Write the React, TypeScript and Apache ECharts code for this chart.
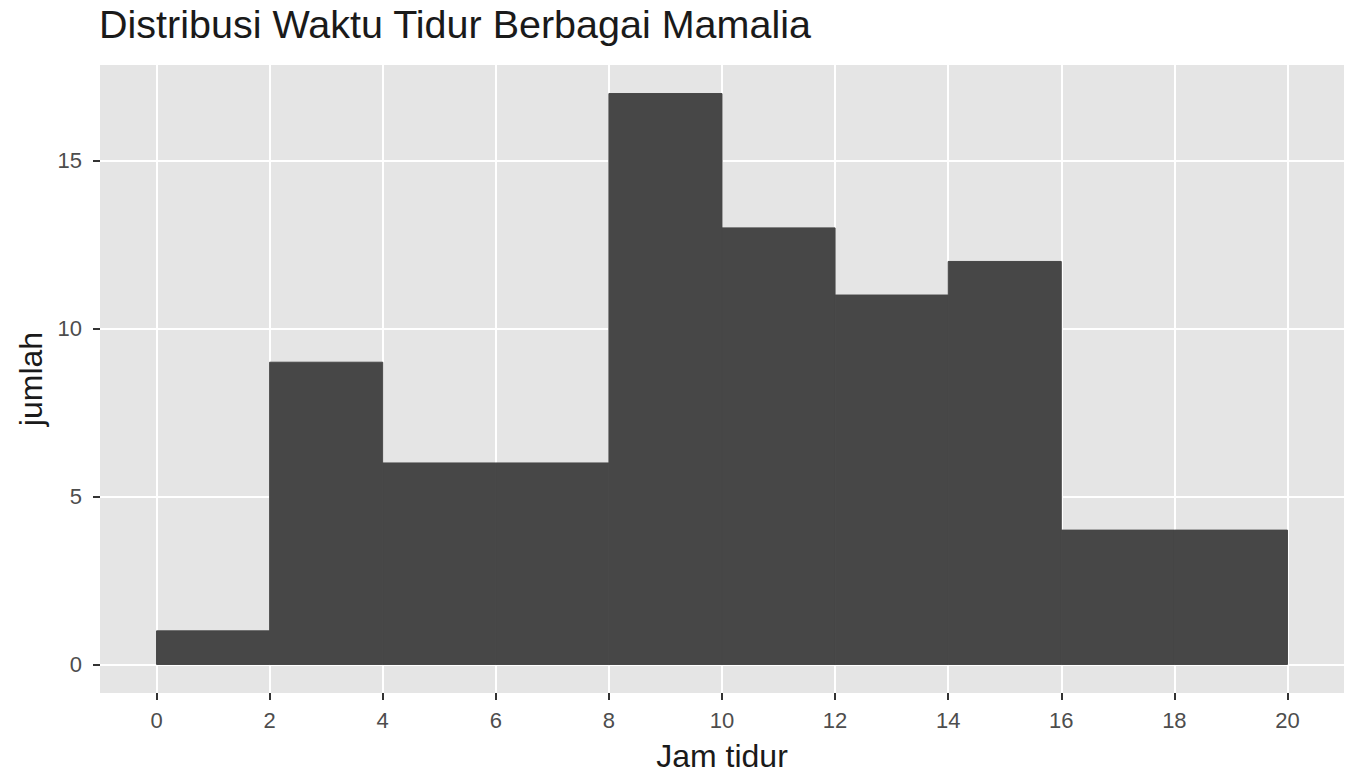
import React, { useEffect, useRef } from 'react'
import * as echarts from 'echarts'

// histogram bins (width 2 jam)
const binStarts = [0, 2, 4, 6, 8, 10, 12, 14, 16, 18]
const binWidth = 2
const counts = [1, 9, 6, 6, 17, 13, 11, 12, 4, 4]

// tick labels
const xTicks = [0, 2, 4, 6, 8, 10, 12, 14, 16, 18, 20]
const yTicks = [0, 5, 10, 15]

// panel extent (ggplot expansion)
const xMin = -1
const xMax = 21
const yMin = -0.85
const yMax = 17.85

const FONT = '"Liberation Sans", Arial, Helvetica, sans-serif'

export default function App() {
  const chartRef = useRef<HTMLDivElement>(null)

  useEffect(() => {
    if (!chartRef.current) return
    document.body.style.margin = '0'
    document.body.style.background = '#ffffff'

    const chart = echarts.init(chartRef.current, null, { renderer: 'svg' })

    const histData = binStarts.map((s, i) => [s, s + binWidth, counts[i]])

    // ggplot-ish: no axis line, short dark ticks outside, white grid on the tick values
    const axisCommon = (ticks: number[], margin: number) => ({
      axisLine: { show: false, onZero: false },
      axisTick: {
        show: true,
        length: 7,
        customValues: ticks,
        lineStyle: { color: '#333333', width: 2 }
      },
      axisLabel: {
        customValues: ticks,
        margin,
        fontFamily: FONT,
        fontSize: 22,
        color: '#4d4d4d'
      },
      splitLine: { show: true, lineStyle: { color: '#ffffff', width: 2 } }
    })

    const option = {
      animation: false,
      backgroundColor: '#ffffff',
      textStyle: { fontFamily: FONT },
      title: {
        text: 'Distribusi Waktu Tidur Berbagai Mamalia',
        left: 99,
        top: 4,
        padding: 0,
        textStyle: { fontFamily: FONT, fontSize: 39.5, fontWeight: 'normal', color: '#1a1a1a' }
      },
      grid: {
        left: 100,
        top: 65,
        right: 16,
        bottom: 91,
        show: true,
        backgroundColor: '#e5e5e5',
        borderWidth: 0
      },
      xAxis: {
        type: 'value',
        min: xMin,
        max: xMax,
        name: 'Jam tidur',
        nameLocation: 'middle',
        nameGap: 47,
        nameTextStyle: { fontFamily: FONT, fontSize: 32, color: '#1a1a1a' },
        ...axisCommon(xTicks, 16)
      },
      yAxis: {
        type: 'value',
        min: yMin,
        max: yMax,
        name: 'jumlah',
        nameLocation: 'middle',
        nameRotate: 90,
        nameGap: 52,
        nameTextStyle: { fontFamily: FONT, fontSize: 32, color: '#1a1a1a' },
        ...axisCommon(yTicks, 18)
      },
      series: [
        {
          type: 'custom',
          data: histData,
          encode: { x: [0, 1], y: 2 },
          renderItem: (params: any, api: any) => {
            const topLeft = api.coord([api.value(0), api.value(2)])
            const bottomRight = api.coord([api.value(1), 0])
            return {
              type: 'rect',
              shape: {
                x: topLeft[0],
                y: topLeft[1],
                width: bottomRight[0] - topLeft[0],
                height: bottomRight[1] - topLeft[1]
              },
              style: { fill: '#474747', stroke: '#474747', lineWidth: 1 }
            }
          }
        }
      ]
    }

    chart.setOption(option)

    return () => {
      chart.dispose()
    }
  }, [])

  return <div ref={chartRef} style={{ width: 1360, height: 784 }} />
}
